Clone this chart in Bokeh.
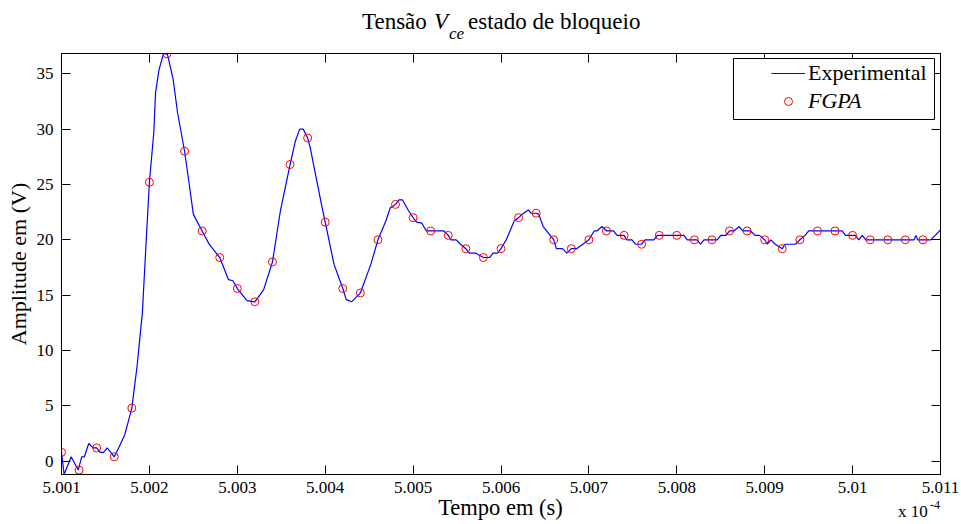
import numpy as np
from bokeh.plotting import figure
from bokeh.layouts import column
from bokeh.models import (Range1d, LinearAxis, FixedTicker, Legend, LegendItem,
                          BoxAnnotation, CustomJSTickFormatter, Div)
from bokeh.embed import file_html
from bokeh.resources import INLINE

# ---------------- data (time in units of 1e-4 s, amplitude in V) ----------------
exp_t = [5.00100, 5.00103, 5.00111, 5.00119, 5.00123, 5.00126, 5.00131, 5.00136, 5.00140,
         5.00144, 5.00148, 5.00152, 5.00160, 5.00165, 5.00172, 5.00180, 5.00186, 5.00192,
         5.00196, 5.00200, 5.00205, 5.00207, 5.00211, 5.00216, 5.00220, 5.00221, 5.00227,
         5.00232, 5.00240, 5.00245, 5.00250, 5.00260, 5.00268, 5.00280, 5.00290, 5.00295,
         5.00300, 5.00311, 5.00320, 5.00330, 5.00340, 5.00349, 5.00360, 5.00366, 5.00371,
         5.00375, 5.00380, 5.00383, 5.00395, 5.00400, 5.00410, 5.00420, 5.00424, 5.00430,
         5.00440, 5.00452, 5.00460, 5.00469, 5.00474, 5.00480, 5.00484, 5.00488, 5.00495,
         5.00500, 5.00504, 5.00510, 5.00515, 5.00520, 5.00535, 5.00540, 5.00543, 5.00549,
         5.00554, 5.00560, 5.00564, 5.00571, 5.00580, 5.00587, 5.00591, 5.00596, 5.00600,
         5.00606, 5.00615, 5.00620, 5.00624, 5.00631, 5.00634, 5.00640, 5.00643, 5.00648,
         5.00654, 5.00660, 5.00663, 5.00670, 5.00675, 5.00680, 5.00686, 5.00700, 5.00706,
         5.00709, 5.00715, 5.00720, 5.00728, 5.00732, 5.00740, 5.00743, 5.00749, 5.00753,
         5.00760, 5.00764, 5.00774, 5.00778, 5.00808, 5.00812, 5.00823, 5.00827, 5.00831,
         5.00846, 5.00850, 5.00856, 5.00860, 5.00865, 5.00871, 5.00875, 5.00884, 5.00889,
         5.00894, 5.00900, 5.00903, 5.00907, 5.00912, 5.00920, 5.00923, 5.00935, 5.00940,
         5.00946, 5.00950, 5.00988, 5.00992, 5.01003, 5.01007, 5.01011, 5.01015, 5.01070,
         5.01072, 5.01074, 5.01089, 5.01100]
exp_v = [0.8, -1.2, 0.4, -0.8, 0.4, 0.4, 1.6, 1.2, 1.2,
         0.8, 0.8, 1.2, 0.4, 1.2, 2.4, 4.8, 8.6, 13.4,
         19.4, 25.2, 29.7, 33.3, 35.4, 36.8, 36.8, 36.6, 34.5,
         31.5, 28.0, 25.2, 22.3, 20.8, 19.6, 18.4, 16.4, 16.3,
         15.6, 14.5, 14.4, 15.5, 18.0, 22.6, 26.8, 28.9, 30.0,
         30.0, 29.2, 28.3, 23.5, 21.6, 17.8, 15.6, 14.6, 14.4,
         15.2, 17.8, 20.0, 21.7, 22.9, 23.2, 23.6, 23.6, 22.6,
         22.0, 21.6, 21.5, 20.8, 20.8, 20.8, 20.4, 20.0, 20.0,
         19.6, 19.2, 18.8, 18.8, 18.4, 18.4, 18.8, 18.8, 19.2,
         20.0, 21.7, 22.0, 22.3, 22.7, 22.4, 22.4, 22.3, 21.2,
         20.6, 20.0, 19.2, 19.2, 18.8, 19.2, 19.2, 20.0, 20.8,
         20.8, 21.2, 20.8, 20.8, 20.4, 20.4, 20.0, 20.0, 19.6,
         19.6, 20.0, 20.0, 20.4, 20.4, 20.0, 20.0, 19.6, 20.0,
         20.0, 20.4, 20.4, 20.8, 20.8, 21.2, 20.8, 20.8, 20.4,
         20.4, 20.0, 19.6, 20.0, 19.6, 19.2, 19.6, 19.6, 20.0,
         20.4, 20.8, 20.8, 20.4, 20.4, 20.0, 20.4, 20.0, 20.0,
         20.4, 20.0, 20.0, 20.9]

fpga_t = [5.0010, 5.0012, 5.0014, 5.0016, 5.0018, 5.0020, 5.0022, 5.0024, 5.0026, 5.0028,
          5.0030, 5.0032, 5.0034, 5.0036, 5.0038, 5.0040, 5.0042, 5.0044, 5.0046, 5.0048,
          5.0050, 5.0052, 5.0054, 5.0056, 5.0058, 5.0060, 5.0062, 5.0064, 5.0066, 5.0068,
          5.0070, 5.0072, 5.0074, 5.0076, 5.0078, 5.0080, 5.0082, 5.0084, 5.0086, 5.0088,
          5.0090, 5.0092, 5.0094, 5.0096, 5.0098, 5.0100, 5.0102, 5.0104, 5.0106, 5.0108]
fpga_v = [0.8, -0.8, 1.2, 0.4, 4.8, 25.2, 36.8, 28.0, 20.8, 18.4,
          15.6, 14.4, 18.0, 26.8, 29.2, 21.6, 15.6, 15.2, 20.0, 23.2,
          22.0, 20.8, 20.4, 19.2, 18.4, 19.2, 22.0, 22.4, 20.0, 19.2,
          20.0, 20.8, 20.4, 19.6, 20.4, 20.4, 20.0, 20.0, 20.8, 20.8,
          20.0, 19.2, 20.0, 20.8, 20.8, 20.4, 20.0, 20.0, 20.0, 20.0]

x_ticks = [5.001, 5.002, 5.003, 5.004, 5.005, 5.006, 5.007, 5.008, 5.009, 5.010, 5.011]
y_ticks = [0, 5, 10, 15, 20, 25, 30, 35]

FONT = "Liberation Serif"

# ---------------- title (HTML so that V_ce can be italic with subscript) ----------------
def span(text, left, baseline, size, italic=False):
    top = baseline - 0.3375 * size
    style = ("position:absolute;white-space:nowrap;line-height:0;"
             f"left:{left}px;top:{top:.1f}px;font-size:{size}px;"
             f"font-style:{'italic' if italic else 'normal'};")
    return f'<span style="{style}">{text}</span>'

box_style = ("position:relative;width:961px;height:{h}px;"
             f"font-family:'{FONT}';color:black;overflow:visible;")

title_html = ('<div style="' + box_style.format(h=45) + '">'
              + span("Tensão", 362, 30, 23)
              + span("V", 434, 30, 23, True)
              + span("ce", 449, 40, 17, True)
              + span("estado de bloqueio", 468, 30, 23)
              + '</div>')
title_div = Div(text=title_html, width=961, height=45, margin=(0, 0, 0, 0),
                styles={"overflow": "visible"})

# ---------------- figure ----------------
p = figure(frame_width=879, frame_height=421,
           min_border_left=61, min_border_right=21, min_border_top=8, min_border_bottom=28,
           x_range=Range1d(5.001, 5.011), y_range=Range1d(-1.2, 36.83),
           output_backend="svg", toolbar_location=None, margin=(0, 0, 0, 0),
           background_fill_color="white", border_fill_color="white")
p.grid.visible = False
p.outline_line_color = "black"
p.outline_line_width = 1

fmt = CustomJSTickFormatter(code="return (Math.round(tick*1000)/1000).toString();")

def style_axis(ax, show_labels=True):
    ax.axis_line_color = "black"
    ax.axis_line_width = 1
    ax.major_tick_in = 9
    ax.major_tick_out = 0
    ax.minor_tick_in = 0
    ax.minor_tick_out = 0
    ax.major_tick_line_color = "black"
    ax.major_label_text_font = FONT
    ax.major_label_text_color = "black"
    if show_labels:
        ax.major_label_text_font_size = "17px"
    else:
        ax.major_label_text_font_size = "0px"
        ax.major_label_standoff = 0

p.xaxis.ticker = FixedTicker(ticks=x_ticks)
p.xaxis.formatter = fmt
p.xaxis.major_label_standoff = 7
p.yaxis.ticker = FixedTicker(ticks=y_ticks)
p.yaxis.major_label_standoff = 8
style_axis(p.xaxis[0])
style_axis(p.yaxis[0])

p.yaxis.axis_label = "Amplitude em (V)"
p.yaxis.axis_label_text_font = FONT
p.yaxis.axis_label_text_font_size = "22px"
p.yaxis.axis_label_text_font_style = "normal"
p.yaxis.axis_label_text_color = "black"
p.yaxis.axis_label_standoff = 3

top_ax = LinearAxis(ticker=FixedTicker(ticks=x_ticks))
right_ax = LinearAxis(ticker=FixedTicker(ticks=y_ticks))
style_axis(top_ax, False)
style_axis(right_ax, False)
p.add_layout(top_ax, "above")
p.add_layout(right_ax, "right")

line_r = p.line(exp_t, exp_v, line_color=(0, 0, 255), line_width=1.2)
scat_r = p.scatter(fpga_t, fpga_v, marker="circle", size=8, fill_color=None,
                   line_color=(255, 0, 0), line_width=1)

# ---------------- legend ----------------
box = BoxAnnotation(left=672, right=873, top=416, bottom=355,
                    left_units="screen", right_units="screen",
                    top_units="screen", bottom_units="screen",
                    fill_color="white", fill_alpha=1.0, line_color="black", line_width=1,
                    line_alpha=1.0)
p.add_layout(box)

def make_legend(item, loc, style):
    lg = Legend(items=[item], location=loc, orientation="vertical",
                padding=0, margin=0, spacing=0, glyph_width=34, glyph_height=20,
                label_height=20, label_standoff=3,
                border_line_alpha=0, background_fill_alpha=0,
                label_text_font=FONT, label_text_font_size="22px",
                label_text_font_style=style, label_text_color="black")
    p.add_layout(lg, "center")
    return lg

make_legend(LegendItem(label="Experimental", renderers=[line_r]), (710, 388), "normal")
make_legend(LegendItem(label="FGPA", renderers=[scat_r]), (710, 360), "italic")

# ---------------- x-axis label and exponent (HTML row under the figure) ----------------
bottom_html = ('<div style="' + box_style.format(h=22) + '">'
               + '<span style="position:absolute;white-space:nowrap;line-height:0;'
                 'left:0px;width:1001px;text-align:center;top:6.4px;font-size:22.5px;">'
                 'Tempo em (s)</span>'
               + span("x 10", 898, 16, 17)
               + span("-4", 930, 7, 12)
               + '</div>')
bottom_div = Div(text=bottom_html, width=961, height=22, margin=(0, 0, 0, 0),
                 styles={"overflow": "visible"})

layout = column(title_div, p, bottom_div, spacing=0, margin=(0, 0, 0, 0))

open("out.html", "w").write(file_html(layout, INLINE))
